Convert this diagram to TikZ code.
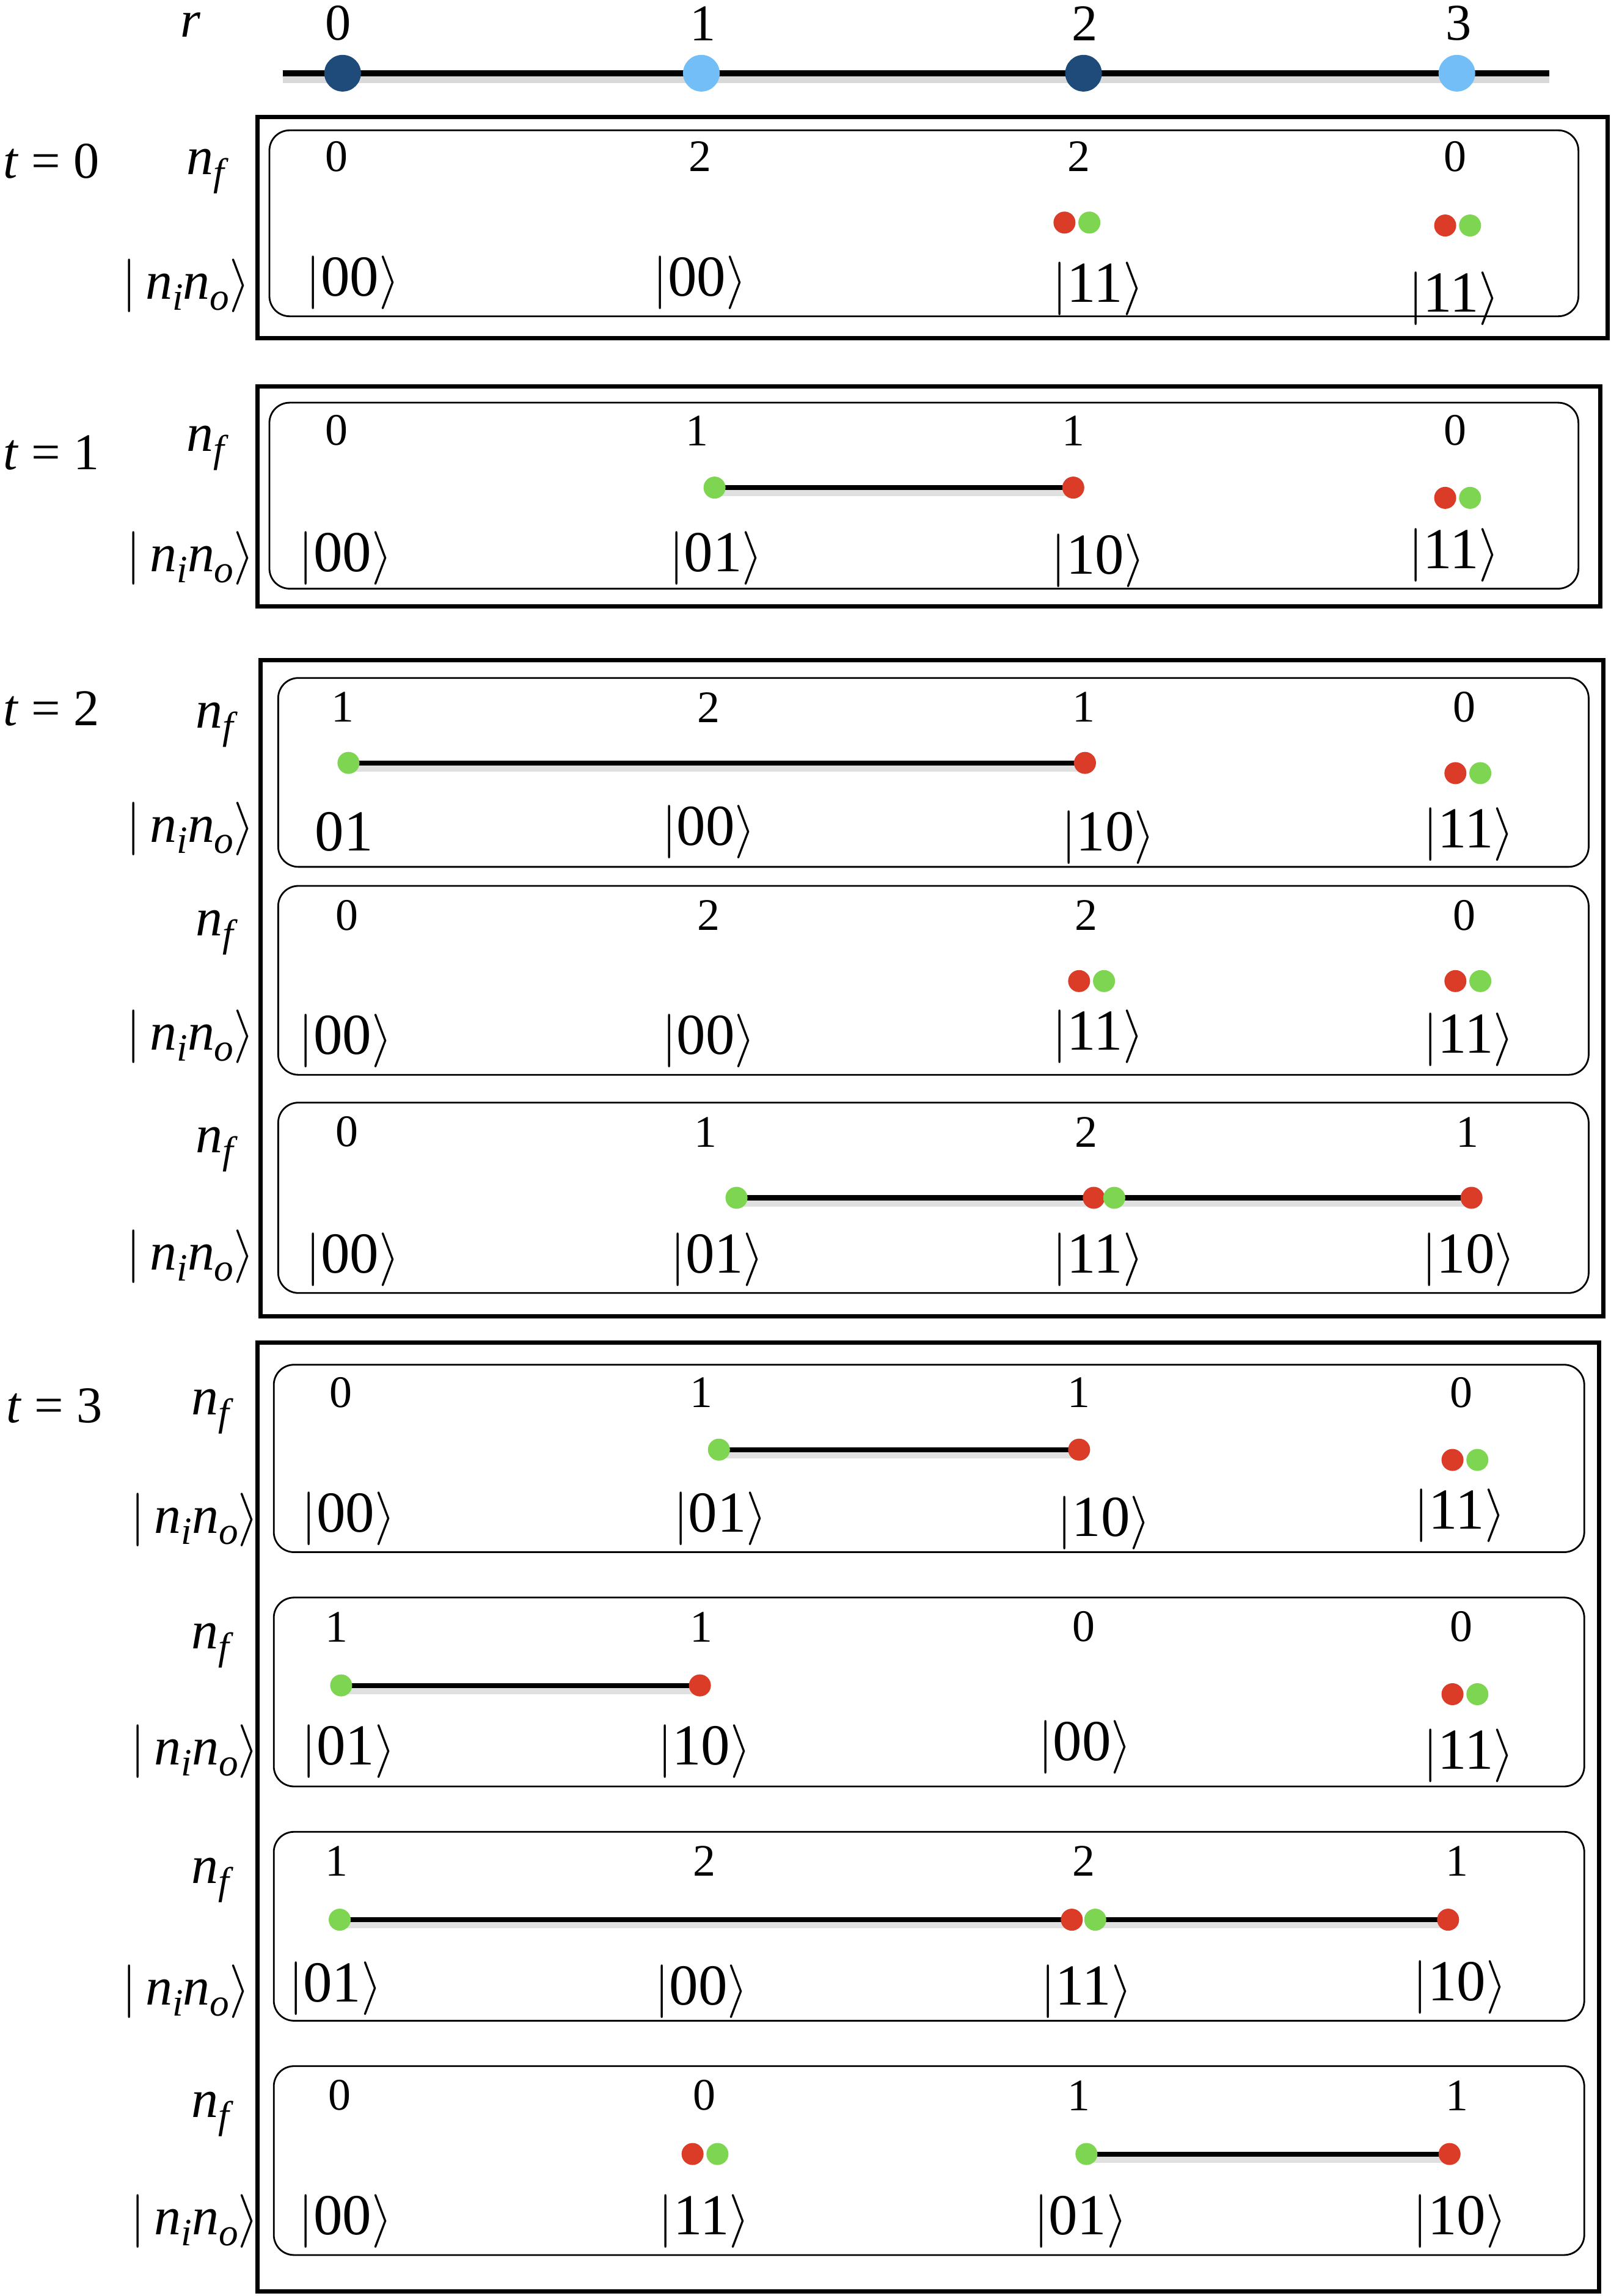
\documentclass[tikz,border=0pt]{standalone}
\usepackage{fontspec}
\setmainfont{Liberation Serif}
\usetikzlibrary{backgrounds}
\definecolor{rdot}{HTML}{DB3C27}
\definecolor{gdot}{HTML}{7ED551}
\definecolor{dblue}{HTML}{1F4B7A}
\definecolor{lblue}{HTML}{74BEF7}
\newcommand{\mysub}[1]{\raisebox{-0.45ex}{\scalebox{0.72}{\textit{#1}}}}
\newcommand{\myket}[1]{$|$#1$\rangle$}
\tikzset{
  nfnum/.style={font=\fontsize{21}{21}\selectfont, inner sep=0},
  ketl/.style={font=\fontsize{27}{27}\selectfont, inner sep=0},
  rowlbl/.style={font=\fontsize{25}{25}\selectfont, inner sep=0},
  tlbl/.style={font=\fontsize{24}{24}\selectfont, inner sep=0},
  rd/.style={circle, fill=rdot, minimum size=0.36cm, inner sep=0},
  gd/.style={circle, fill=gdot, minimum size=0.36cm, inner sep=0},
  site/.style={circle, minimum size=0.6cm, inner sep=0},
  outerbox/.style={draw, line width=2pt},
  innerbox/.style={draw, line width=0.8pt, rounded corners=0.33cm},
  bond/.style={line width=2.3pt, black, preaction={draw, line width=3pt, black!12, transform canvas={yshift=-2.5pt}}},
}
\newcommand{\nflbl}{\textit{n}\mysub{f}}
\newcommand{\ketlbl}{\myket{\,\textit{n}\mysub{i}\textit{n}\mysub{o}}}
\begin{document}
\begin{tikzpicture}[x=0.02396cm, y=-0.02396cm]
\useasboundingbox (0,0) rectangle (1100,1568);

% ---- axis ----
\node[tlbl] (rl) at (130,17) {\textit{r}};
\node[tlbl] (c0) at (231,16) {0};
\node[tlbl] (c1) at (480,16) {1};
\node[tlbl] (c2) at (741,16) {2};
\node[tlbl] (c3) at (996,16) {3};
\coordinate (axl) at (193,50);
\coordinate (axr) at (1058,50);
\draw[line width=3pt, black!15] ([yshift=-3pt]axl) -- ([yshift=-3pt]axr);
\draw[line width=2.8pt] (axl) -- (axr);
\node[site, fill=dblue] (s0) at (234,50) {};
\node[site, fill=lblue] (s1) at (479,50) {};
\node[site, fill=dblue] (s2) at (740,50) {};
\node[site, fill=lblue] (s3) at (995,50) {};

% ---- t = 0 ----
\draw[outerbox] (176,80) rectangle (1098,231);
\draw[innerbox] (184,89) rectangle (1078,216);
\node[tlbl] (t0) at (35,110) {\textit{t} = 0};
\node[rowlbl] (a0nf) at (142,117) {\nflbl};
\node[rowlbl] (a0k) at (127,195) {\ketlbl};
\node[nfnum] (a0n0) at (230,107) {0};
\node[nfnum] (a0n1) at (478,107) {2};
\node[nfnum] (a0n2) at (737,107) {2};
\node[nfnum] (a0n3) at (994,107) {0};
\node[rd] (a0r2) at (727,152) {};
\node[gd] (a0g2) at (744,152) {};
\node[rd] (a0r3) at (987,154) {};
\node[gd] (a0g3) at (1004,154) {};
\node[ketl] (a0k0) at (241,193) {\myket{00}};
\node[ketl] (a0k1) at (478,193) {\myket{00}};
\node[ketl] (a0k2) at (750,197) {\myket{11}};
\node[ketl] (a0k3) at (993,204) {\myket{11}};

% ---- t = 1 ----
\draw[outerbox] (176,264) rectangle (1093,414);
\draw[innerbox] (184,275) rectangle (1078,402);
\node[tlbl] (t1) at (35,309) {\textit{t} = 1};
\node[rowlbl] (b0nf) at (142,306) {\nflbl};
\node[rowlbl] (b0k) at (130,381) {\ketlbl};
\node[nfnum] (b0n0) at (230,294) {0};
\node[nfnum] (b0n1) at (476,294) {1};
\node[nfnum] (b0n2) at (733,294) {1};
\node[nfnum] (b0n3) at (994,294) {0};
\node[gd] (b0g1) at (488,333) {};
\node[rd] (b0r2) at (733,333) {};
\node[rd] (b0r3) at (987,340) {};
\node[gd] (b0g3) at (1004,340) {};
\node[ketl] (b0k0) at (236,381) {\myket{00}};
\node[ketl] (b0k1) at (489,381) {\myket{01}};
\node[ketl] (b0k2) at (750,383) {\myket{10}};
\node[ketl] (b0k3) at (993,379) {\myket{11}};

% ---- t = 2 ----
\draw[outerbox] (178,451) rectangle (1095,899);
\node[tlbl] (t2) at (35,484) {\textit{t} = 2};
% box A
\draw[innerbox] (190,463) rectangle (1085,592);
\node[rowlbl] (c0nf) at (148,495) {\nflbl};
\node[rowlbl] (c0k) at (130,566) {\ketlbl};
\node[nfnum] (c0n0) at (234,483) {1};
\node[nfnum] (c0n1) at (484,483) {2};
\node[nfnum] (c0n2) at (740,483) {1};
\node[nfnum] (c0n3) at (1000,483) {0};
\node[gd] (c0g0) at (238,521) {};
\node[rd] (c0r2) at (741,521) {};
\node[rd] (c0r3) at (994,528) {};
\node[gd] (c0g3) at (1011,528) {};
\node[ketl] (c0k0) at (235,568) {01};
\node[ketl] (c0k1) at (484,568) {\myket{00}};
\node[ketl] (c0k2) at (757,572) {\myket{10}};
\node[ketl] (c0k3) at (1003,570) {\myket{11}};
% box B
\draw[innerbox] (190,605) rectangle (1085,734);
\node[rowlbl] (c1nf) at (148,637) {\nflbl};
\node[rowlbl] (c1k) at (130,708) {\ketlbl};
\node[nfnum] (c1n0) at (237,625) {0};
\node[nfnum] (c1n1) at (484,625) {2};
\node[nfnum] (c1n2) at (742,625) {2};
\node[nfnum] (c1n3) at (1000,625) {0};
\node[rd] (c1r2) at (737,670) {};
\node[gd] (c1g2) at (754,670) {};
\node[rd] (c1r3) at (994,670) {};
\node[gd] (c1g3) at (1011,670) {};
\node[ketl] (c1k0) at (236,711) {\myket{00}};
\node[ketl] (c1k1) at (484,711) {\myket{00}};
\node[ketl] (c1k2) at (750,708) {\myket{11}};
\node[ketl] (c1k3) at (1003,710) {\myket{11}};
% box C
\draw[innerbox] (190,753) rectangle (1085,883);
\node[rowlbl] (c2nf) at (148,785) {\nflbl};
\node[rowlbl] (c2k) at (130,858) {\ketlbl};
\node[nfnum] (c2n0) at (237,773) {0};
\node[nfnum] (c2n1) at (482,773) {1};
\node[nfnum] (c2n2) at (742,773) {2};
\node[nfnum] (c2n3) at (1002,773) {1};
\node[gd] (c2g1) at (503,818) {};
\node[rd] (c2r2) at (747,818) {};
\node[gd] (c2g2) at (761,818) {};
\node[rd] (c2r3) at (1005,818) {};
\node[ketl] (c2k0) at (241,860) {\myket{00}};
\node[ketl] (c2k1) at (490,860) {\myket{01}};
\node[ketl] (c2k2) at (750,860) {\myket{11}};
\node[ketl] (c2k3) at (1003,860) {\myket{10}};

% ---- t = 3 ----
\draw[outerbox] (176,917) rectangle (1092,1565);
\node[tlbl] (t3) at (37,960) {\textit{t} = 3};
% box 1
\draw[innerbox] (187,932) rectangle (1082,1060);
\node[rowlbl] (d0nf) at (145,964) {\nflbl};
\node[rowlbl] (d0k) at (133,1038) {\ketlbl};
\node[nfnum] (d0n0) at (233,951) {0};
\node[nfnum] (d0n1) at (479,951) {1};
\node[nfnum] (d0n2) at (737,951) {1};
\node[nfnum] (d0n3) at (998,951) {0};
\node[gd] (d0g1) at (491,990) {};
\node[rd] (d0r2) at (737,990) {};
\node[rd] (d0r3) at (992,997) {};
\node[gd] (d0g3) at (1009,997) {};
\node[ketl] (d0k0) at (238,1037) {\myket{00}};
\node[ketl] (d0k1) at (492,1037) {\myket{01}};
\node[ketl] (d0k2) at (754,1040) {\myket{10}};
\node[ketl] (d0k3) at (997,1035) {\myket{11}};
% box 2
\draw[innerbox] (187,1091) rectangle (1082,1220);
\node[rowlbl] (d1nf) at (145,1124) {\nflbl};
\node[rowlbl] (d1k) at (133,1196) {\ketlbl};
\node[nfnum] (d1n0) at (230,1111) {1};
\node[nfnum] (d1n1) at (479,1111) {1};
\node[nfnum] (d1n2) at (740,1111) {0};
\node[nfnum] (d1n3) at (998,1111) {0};
\node[gd] (d1g0) at (233,1151) {};
\node[rd] (d1r1) at (478,1151) {};
\node[rd] (d1r3) at (992,1157) {};
\node[gd] (d1g3) at (1009,1157) {};
\node[ketl] (d1k0) at (238,1196) {\myket{01}};
\node[ketl] (d1k1) at (481,1196) {\myket{10}};
\node[ketl] (d1k2) at (741,1193) {\myket{00}};
\node[ketl] (d1k3) at (1003,1199) {\myket{11}};
% box 3
\draw[innerbox] (187,1251) rectangle (1082,1380);
\node[rowlbl] (d2nf) at (145,1284) {\nflbl};
\node[rowlbl] (d2k) at (127,1360) {\ketlbl};
\node[nfnum] (d2n0) at (230,1271) {1};
\node[nfnum] (d2n1) at (481,1271) {2};
\node[nfnum] (d2n2) at (740,1271) {2};
\node[nfnum] (d2n3) at (995,1271) {1};
\node[gd] (d2g0) at (232,1311) {};
\node[rd] (d2r2) at (732,1311) {};
\node[gd] (d2g2) at (748,1311) {};
\node[rd] (d2r3) at (989,1311) {};
\node[ketl] (d2k0) at (229,1358) {\myket{01}};
\node[ketl] (d2k1) at (479,1360) {\myket{00}};
\node[ketl] (d2k2) at (742,1360) {\myket{11}};
\node[ketl] (d2k3) at (997,1357) {\myket{10}};
% box 4
\draw[innerbox] (187,1411) rectangle (1082,1540);
\node[rowlbl] (d3nf) at (145,1444) {\nflbl};
\node[rowlbl] (d3k) at (133,1517) {\ketlbl};
\node[nfnum] (d3n0) at (232,1431) {0};
\node[nfnum] (d3n1) at (481,1431) {0};
\node[nfnum] (d3n2) at (737,1431) {1};
\node[nfnum] (d3n3) at (995,1431) {1};
\node[rd] (d3r1) at (473,1471) {};
\node[gd] (d3g1) at (490,1471) {};
\node[gd] (d3g2) at (742,1471) {};
\node[rd] (d3r3) at (990,1471) {};
\node[ketl] (d3k0) at (236,1517) {\myket{00}};
\node[ketl] (d3k1) at (481,1517) {\myket{11}};
\node[ketl] (d3k2) at (738,1517) {\myket{01}};
\node[ketl] (d3k3) at (997,1517) {\myket{10}};

% ---- bonds ----
\begin{scope}[on background layer]
\draw[bond] (b0g1.center) -- (b0r2.center);
\draw[bond] (c0g0.center) -- (c0r2.center);
\draw[bond] (c2g1.center) -- (c2r2.center);
\draw[bond] (c2g2.center) -- (c2r3.center);
\draw[bond] (d0g1.center) -- (d0r2.center);
\draw[bond] (d1g0.center) -- (d1r1.center);
\draw[bond] (d2g0.center) -- (d2r2.center);
\draw[bond] (d2g2.center) -- (d2r3.center);
\draw[bond] (d3g2.center) -- (d3r3.center);
\end{scope}
\end{tikzpicture}
\end{document}
